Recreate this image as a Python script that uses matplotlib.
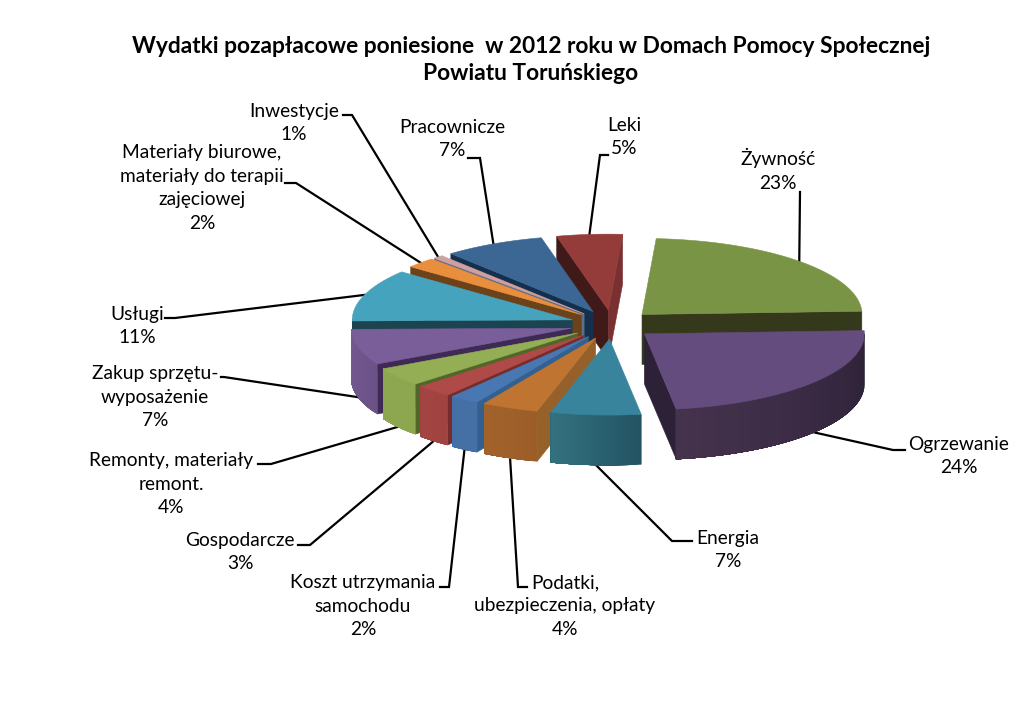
import numpy as np
from matplotlib import pyplot as plt
from matplotlib.colors import to_rgb
from matplotlib.patches import Polygon

# 1. Dane
names = ['Żywność', 'Ogrzewanie', 'Energia', 'Podatki,\nubezpieczenia, opłaty',
         'Koszt utrzymania\nsamochodu', 'Gospodarcze', 'Remonty, materiały\nremont.',
         'Zakup sprzętu-\nwyposażenie', 'Usługi', 'Materiały biurowe,\nmateriały do terapii\nzajęciowej',
         'Inwestycje', 'Pracownicze', 'Leki']
shares = [23.28, 23.36, 6.58, 4.17, 2.14, 2.64, 3.97, 7.56, 11.1, 2.2, 0.75, 7.4, 4.8]
# procenty z etykiet
percents = [23, 24, 7, 4, 2, 3, 4, 7, 11, 2, 1, 7, 5]
title = 'Wydatki pozapłacowe poniesione  w 2012 roku w Domach Pomocy Społecznej\nPowiatu Toruńskiego'

# 2. Kolory: wierzch, ściana boczna, łuk (lewa i prawa strona)
top_colors = ['#7A9445', '#644C7E', '#38849C', '#BF7431', '#4878B4', '#B04A48', '#93AE54',
              '#7A5E9A', '#46A3BD', '#E98E3C', '#CEA0A0', '#3C6694', '#933C3A']
wall_colors = ['#35391C', '#2C2136', '#235464', '#96602B', '#34608F', '#752C2C', '#52662A',
               '#3E2A55', '#1C4350', '#6B421A', '#5E6F88', '#15304D', '#401A18']
arc_left = ['#35391C', '#46334F', '#33727F', '#A2622B', '#4570A5', '#A14442', '#8CA74F',
            '#745A92', '#1C4350', '#6B421A', '#5E6F88', '#15304D', '#7A3030']
arc_right = ['#35391C', '#2C2136', '#225363', '#9C5E29', '#4570A5', '#A04341', '#8CA74F',
             '#6A5186', '#1C4350', '#6B421A', '#5E6F88', '#15304D', '#7A3030']

# 3. Układ wykresu
cx, cy = 612, 324.6
rx, ry = 220, 76
depth = 50
explode = 42
start_angle = 3.7

# pozycje etykiet: środek x, środek y bloku tekstu
label_pos = [(778, 170), (959, 456), (728, 550), (565, 606), (363, 606), (240, 552), (171, 484),
             (155, 397), (137, 326), (202, 188), (294, 123), (452, 139), (624, 137)]
# załamania linii odniesienia
leader_pts = [[(800, 192)], [(893, 450), (905, 450)], [(672, 541), (692, 541)],
              [(518, 587), (527, 587)], [(449, 587), (440, 587)], [(310, 545), (298, 545)],
              [(271, 464), (258, 464)], [(224, 377), (221, 377)], [(175, 318), (165, 318)],
              [(296, 183), (285, 183)], [(352, 115), (343, 115)], [(480, 158), (468, 158)],
              [(600, 155), (608, 155)]]

plt.rcParams['font.family'] = ['Lato', 'DejaVu Sans']
fig = plt.figure(figsize=(10.31, 7.11), dpi=100)
ax = fig.add_axes([0, 0, 1, 1])
ax.set_xlim(0, 1031)
ax.set_ylim(711, 0)
ax.axis('off')


def project(ang, ox, oy):
    t = np.radians(ang)
    return ox + rx * np.sin(t), oy - ry * np.cos(t)


def face(pts, color, z):
    ax.add_patch(Polygon(pts, closed=True, fc=color, ec=color, lw=0.4, zorder=z))


# 4. Kąty wycinków (od góry, zgodnie z ruchem wskazówek)
angles = np.array(shares) / sum(shares) * 360
ends = start_angle + np.cumsum(angles)
starts = ends - angles
mids = (starts + ends) / 2

# od tyłu do przodu
order = np.argsort(-np.cos(np.radians(mids)))
for rank, i in enumerate(order):
    a, b, m = starts[i], ends[i], mids[i]
    ox = cx + explode * np.sin(np.radians(m))
    oy = cy - explode * ry / rx * np.cos(np.radians(m))
    z = 10 + rank

    # ściany boczne
    if np.sin(np.radians(a)) < 0:
        x, y = project(a, ox, oy)
        face([(ox, oy), (x, y), (x, y + depth), (ox, oy + depth)], wall_colors[i], z)
    if np.sin(np.radians(b)) > 0:
        x, y = project(b, ox, oy)
        col = arc_left[i] if names[i] == 'Leki' else wall_colors[i]
        face([(ox, oy), (x, y), (x, y + depth), (ox, oy + depth)], col, z)

    # łuk z gradientem, paski zachodzą na siebie żeby nie było szwów
    lo, hi = max(a, 90), min(b, 270)
    if lo < hi:
        steps = np.linspace(lo, hi, 25)
        c0, c1 = np.array(to_rgb(arc_right[i])), np.array(to_rgb(arc_left[i]))
        for s0, s1 in zip(steps[:-1], steps[1:]):
            arc = np.linspace(s0, hi, 30)
            xs, ys = project(arc, ox, oy)
            f = ((s0 + s1) / 2 - lo) / (hi - lo)
            pts = list(zip(xs, ys)) + list(zip(xs[::-1], ys[::-1] + depth))
            face(pts, tuple(c0 + (c1 - c0) * f), z)

    # wierzch
    arc = np.linspace(a, b, 60)
    xs, ys = project(arc, ox, oy)
    face([(ox, oy)] + list(zip(xs, ys)), top_colors[i], z)

    # linia odniesienia
    x, y = project(m, ox, oy)
    if 90 < m < 270:
        y += depth
    line = [(x, y)] + leader_pts[i]
    ax.plot([p[0] for p in line], [p[1] for p in line], color='black', lw=1.6, zorder=1,
            solid_joinstyle='miter')

    # etykieta
    ax.text(label_pos[i][0], label_pos[i][1], f'{names[i]}\n{percents[i]}%', ha='center', va='center',
            fontsize=13.8, color='black', linespacing=1.47, zorder=40)

ax.text(531, 60, title, ha='center', va='center', fontsize=16.4, fontweight='bold', color='black', linespacing=1.34)

plt.savefig('out.png', dpi=100, facecolor='white')
